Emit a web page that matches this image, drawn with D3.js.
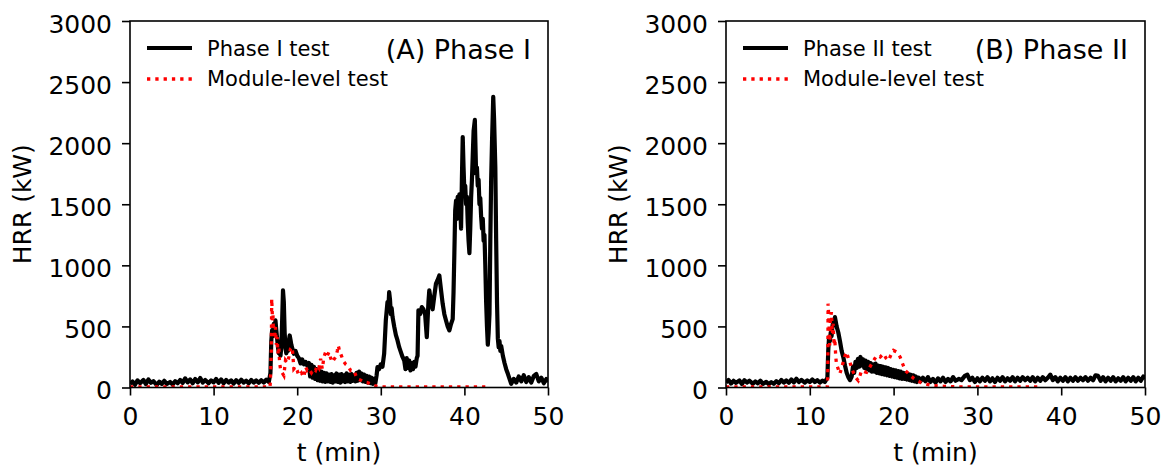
<!DOCTYPE html>
<html lang="en">
<head>
<meta charset="UTF-8">
<script src="https://d3js.org/d3.v7.min.js"></script>
<style>
  body { margin: 0; background: #fff; font-family: "DejaVu Sans", sans-serif; }
  .tick text { font-family: "DejaVu Sans", sans-serif; font-size: 25px; fill: #000; }
  .tick line { stroke: #000; stroke-width: 1.6px; }
  .axis-label { font-size: 25px; fill: #000; }
  .legend text { font-size: 21px; fill: #000; }
  .panel-title { font-size: 27px; fill: #000; }
</style>
</head>
<body>
<svg id="chart" width="1165" height="466"></svg>
<script>
// [t (min), HRR (kW)]
const phase1Test = [[0,30],[0.3,50],[0.6,22],[0.9,58],[1.2,35],[1.6,62],[1.9,28],[2.2,66],[2.5,38],[2.8,52],[3.2,20],[3.5,48],[3.8,30],[4.1,55],[4.4,28],[4.8,45],[5.1,25],[5.4,52],[5.7,35],[6,62],[6.3,38],[6.6,75],[6.9,42],[7.2,66],[7.5,35],[7.8,70],[8.1,42],[8.4,78],[8.7,40],[9,62],[9.4,35],[9.7,58],[10,42],[10.3,70],[10.6,38],[10.9,66],[11.2,35],[11.5,62],[11.8,40],[12.1,58],[12.4,32],[12.7,60],[13,38],[13.3,64],[13.6,40],[13.9,56],[14.2,35],[14.5,62],[14.8,40],[15.1,58],[15.4,38],[15.7,60],[16,40],[16.3,64],[16.6,45],
  [16.8,120],[16.9,380],[17,470],[17.1,420],[17.2,520],[17.3,480],[17.4,549],[17.5,470],[17.6,400],[17.7,330],[17.8,280],[17.9,300],[18,260],[18.1,330],[18.2,550],[18.3,795],[18.4,700],[18.5,450],[18.6,320],[18.7,280],[18.8,330],[18.9,300],[19,380],[19.1,426],[19.2,390],[19.3,350],[19.5,300],[19.6,276],[19.8,300],[20,260],[20.2,240],[20.4,197],[20.6,230],[20.8,190],[21,210],[21.2,180],
  [21.4,200],[21.55,90],[21.7,185],[21.85,80],[22,170],[22.15,70],[22.3,150],[22.45,60],[22.6,140],[22.75,55],[22.9,130],[23.05,50],[23.2,120],[23.35,45],[23.5,115],[23.65,50],[23.8,105],[23.95,45],[24.1,110],[24.25,40],[24.4,100],[24.55,50],[24.7,115],[24.85,45],[25,105],[25.15,40],[25.3,110],[25.45,50],[25.6,100],[25.75,45],[25.9,115],[26.05,50],[26.2,105],[26.35,45],[26.5,110],[26.65,55],[26.8,100],[26.95,50],[27.1,120],[27.25,55],[27.4,130],[27.55,60],[27.7,115],[27.85,50],[28,105],[28.15,45],[28.3,95],[28.45,40],[28.6,90],[28.75,35],[28.9,80],[29.05,30],[29.2,70],[29.35,35],[29.5,100],
  [29.6,167],[29.8,150],[30,190],[30.2,170],[30.4,276],[30.6,550],[30.8,700],[30.9,640],[31,780],[31.1,720],[31.2,600],[31.3,650],[31.4,580],[31.6,500],[31.8,430],[32,385],[32.2,330],[32.4,290],[32.6,250],[32.8,221],[32.95,150],[33.1,240],[33.25,160],[33.4,220],[33.55,140],[33.7,200],[33.85,150],[34,210],[34.15,170],[34.3,240],[34.4,260],[34.5,631],[34.7,600],[34.9,658],[35.1,640],[35.3,600],[35.5,412],[35.7,700],[35.8,795],[36,700],[36.2,640],[36.4,750],[36.6,850],[36.8,880],[37,918],[37.2,800],[37.4,686],[37.6,600],[37.8,549],[38,500],[38.2,467],[38.4,520],
  [38.6,560],[38.7,780],[38.8,1100],[38.9,1450],[39,1530],[39.1,1380],[39.2,1560],[39.3,1450],[39.4,1580],[39.5,1500],[39.6,1300],[39.7,1700],[39.8,2050],[39.9,1800],[40,1600],[40.1,1650],[40.2,1500],[40.3,1560],[40.4,1350],[40.5,1200],[40.6,1100],[40.7,1300],[40.8,1550],[40.9,1700],[41,1900],[41.1,2100],[41.25,2190],[41.4,1750],[41.5,1800],[41.6,1650],[41.7,1700],[41.8,1500],[41.9,1550],[42,1400],[42.1,1300],[42.2,1380],[42.3,1200],[42.4,1250],[42.5,1000],[42.6,700],[42.7,500],[42.8,350],[42.9,450],[43,600],[43.1,1200],[43.2,1700],[43.3,2000],[43.45,2380],[43.55,2200],[43.7,1800],[43.8,1200],[43.9,700],[44,400],[44.1,330],[44.2,380],[44.3,300],[44.4,340],[44.6,260],[44.8,200],[45,150],[45.2,112],[45.4,70],[45.6,30],[45.9,70],[46.2,40],[46.5,90],[46.8,50],[47.1,100],[47.4,45],[47.7,85],[48,40],[48.3,95],[48.6,110],[48.9,50],[49.2,80],[49.5,35],[49.8,70],[50,45]];

const phase1Module = [[0,4],[16.75,4],[16.8,60],[16.9,300],[16.95,727],[17,640],[17.05,550],[17.1,600],[17.15,470],[17.2,500],[17.3,400],[17.4,494],[17.5,350],[17.6,413],[17.7,280],[17.8,330],[17.9,200],[18,153],[18.2,120],[18.4,98],[18.5,160],[18.6,221],[18.8,200],[19,249],[19.2,317],[19.4,330],[19.5,250],[19.6,153],[19.8,170],[20,139],[20.2,98],[20.5,120],[20.8,85],[21,167],[21.2,140],[21.4,153],[21.7,120],[22,153],[22.2,140],[22.4,180],[22.6,160],[22.8,235],[23,153],[23.2,250],[23.4,290],[23.6,260],[23.8,290],[24,240],[24.2,208],[24.4,230],[24.6,249],[24.8,300],[24.9,344],[25,320],[25.2,276],[25.4,240],[25.6,208],[25.8,190],[26,180],[26.2,160],[26.4,139],[26.8,139],[27,100],[27.2,71],[27.6,60],[28,44],[28.4,40],[28.8,30],[29.2,16],[29.6,10],[30,6],[31,5],[42.5,5]];

const phase2Test = [[0,40],[0.3,62],[0.6,32],[0.9,55],[1.2,38],[1.6,58],[1.9,28],[2.2,60],[2.5,40],[2.8,56],[3.2,30],[3.5,50],[3.8,34],[4.1,56],[4.4,30],[4.8,46],[5.1,28],[5.4,44],[5.7,30],[6,52],[6.3,35],[6.6,62],[6.9,40],[7.2,58],[7.5,38],[7.8,66],[8.1,42],[8.4,72],[8.7,45],[9,62],[9.4,40],[9.7,58],[10,44],[10.3,66],[10.6,45],[10.9,60],[11.2,40],[11.5,56],[11.8,45],
  [12.1,80],[12.2,300],[12.3,412],[12.4,380],[12.5,450],[12.6,420],[12.7,500],[12.8,540],[12.9,520],[13,576],[13.1,540],[13.2,500],[13.4,450],[13.6,380],[13.8,300],[14,248],[14.2,180],[14.4,120],[14.6,84],[14.8,60],
  [15,90],[15.15,170],[15.3,120],[15.45,210],[15.6,160],[15.75,235],[15.9,170],[16.05,250],[16.2,180],[16.35,230],[16.5,160],[16.65,220],[16.8,150],[16.95,210],[17.1,140],[17.25,200],[17.4,130],[17.55,190],[17.7,130],[17.85,195],[18,120],[18.15,180],[18.3,115],[18.45,175],[18.6,110],[18.75,170],[18.9,105],[19.05,165],[19.2,100],[19.35,160],[19.5,95],[19.65,150],[19.8,90],[19.95,145],[20.1,85],[20.25,140],[20.4,80],[20.55,135],[20.7,75],[20.85,130],[21,70],[21.15,120],[21.3,70],[21.45,115],[21.6,65],[21.75,110],[21.9,60],[22.05,105],[22.2,55],[22.35,100],[22.5,50],[22.65,90],[22.8,45],[23,80],[23.2,50],
  [23.5,80],[23.8,50],[24.1,85],[24.4,45],[24.7,70],[25,40],[25.3,75],[25.6,50],[25.9,80],[26.2,45],[26.5,70],[26.8,50],[27.1,85],[27.4,55],[27.8,70],[28.1,60],[28.5,95],[28.8,105],[29.1,60],[29.4,80],[29.7,45],[30,75],[30.3,50],[30.6,80],[30.9,55],[31.2,85],[31.5,50],[31.8,75],[32.1,45],[32.4,80],[32.7,55],[33,85],[33.3,50],[33.6,75],[33.9,55],[34.2,85],[34.5,50],[34.8,80],[35.1,55],[35.4,85],[35.7,60],[36,80],[36.3,55],[36.6,85],[36.9,50],[37.2,80],[37.5,55],[37.8,85],[38.1,60],[38.4,80],[38.7,105],[39,60],[39.3,85],[39.6,50],[39.9,80],[40.2,55],[40.5,85],[40.8,50],[41.1,80],[41.4,55],[41.7,85],[42,55],[42.3,80],[42.6,60],[42.9,85],[43.2,55],[43.5,80],[43.8,60],[44.1,100],[44.4,95],[44.7,55],[45,85],[45.3,50],[45.6,80],[45.9,55],[46.2,85],[46.5,50],[46.8,75],[47.1,55],[47.4,85],[47.7,50],[48,80],[48.3,55],[48.6,85],[48.9,50],[49.2,80],[49.5,55],[49.8,90],[50,70]];

const phase2Module = [[0,4],[12.1,4],[12.15,150],[12.18,686],[12.25,600],[12.3,508],[12.38,344],[12.45,560],[12.58,617],[12.7,440],[12.78,522],[12.9,344],[12.98,400],[13.1,250],[13.18,194],[13.4,150],[13.58,112],[13.8,160],[13.98,207],[14.2,260],[14.38,290],[14.6,240],[14.78,207],[15,160],[15.18,125],[15.5,80],[15.78,57],[16,100],[16.18,139],[16.5,130],[16.78,125],[17.1,160],[17.39,194],[17.7,230],[17.99,262],[18.4,250],[18.79,276],[19.1,240],[19.39,221],[19.7,270],[19.99,303],[20.39,290],[20.79,248],[21.1,190],[21.39,139],[21.7,120],[21.99,98],[22.4,75],[22.8,57],[23.3,40],[23.8,30],[24.3,22],[24.8,16],[25.4,12],[26,10],[27,6],[37.6,5]];

const xTicks = [0, 10, 20, 30, 40, 50];
const yTicks = [0, 500, 1000, 1500, 2000, 2500, 3000];

const panels = [
  { left: 130, right: 548, title: "(A) Phase I", testName: "Phase I test", test: phase1Test, module: phase1Module },
  { left: 726, right: 1145, title: "(B) Phase II", testName: "Phase II test", test: phase2Test, module: phase2Module }
];
const plotTop = 21, plotBottom = 387.5;

const svg = d3.select("#chart");

panels.forEach((p, i) => {
  const x = d3.scaleLinear().domain([0, 50]).range([p.left, p.right]);
  const y = d3.scaleLinear().domain([0, 3000]).range([plotBottom, plotTop]);
  const g = svg.append("g");

  g.append("clipPath").attr("id", "clip" + i)
    .append("rect").attr("x", p.left).attr("y", plotTop)
    .attr("width", p.right - p.left).attr("height", plotBottom - plotTop);

  const line = d3.line().x(d => x(d[0])).y(d => y(d[1]));

  g.append("path").datum(p.test)
    .attr("clip-path", `url(#clip${i})`)
    .attr("fill", "none").attr("stroke", "#000")
    .attr("stroke-width", 4.2).attr("stroke-linejoin", "round")
    .attr("d", line);

  g.append("path").datum(p.module)
    .attr("clip-path", `url(#clip${i})`)
    .attr("fill", "none").attr("stroke", "#ff0000")
    .attr("stroke-width", 3.3).attr("stroke-dasharray", "3.3,5")
    .attr("d", line);

  // axes
  const xAxis = g.append("g").attr("transform", `translate(0,${plotBottom})`)
    .call(d3.axisBottom(x).tickValues(xTicks).tickSize(8).tickPadding(12));
  xAxis.select(".domain").remove();

  const yAxis = g.append("g").attr("transform", `translate(${p.left},0)`)
    .call(d3.axisLeft(y).tickValues(yTicks).tickFormat(d3.format("d")).tickSize(8).tickPadding(10));
  yAxis.select(".domain").remove();
  yAxis.selectAll("text").attr("dy", "0.45em");

  g.append("rect")
    .attr("x", p.left).attr("y", plotTop)
    .attr("width", p.right - p.left).attr("height", plotBottom - plotTop)
    .attr("fill", "none").attr("stroke", "#000").attr("stroke-width", 1.6);

  g.append("text").attr("class", "axis-label")
    .attr("x", (p.left + p.right) / 2).attr("y", 461)
    .attr("text-anchor", "middle").text("t (min)");

  g.append("text").attr("class", "axis-label")
    .attr("transform", `translate(${p.left - 99},${(plotTop + plotBottom) / 2}) rotate(-90)`)
    .attr("text-anchor", "middle").text("HRR (kW)");

  g.append("text").attr("class", "panel-title")
    .attr("x", p.right - 17).attr("y", 59)
    .attr("text-anchor", "end").text(p.title);

  // legend
  const lg = g.append("g").attr("class", "legend");
  lg.append("line")
    .attr("x1", p.left + 17).attr("x2", p.left + 62)
    .attr("y1", 48).attr("y2", 48)
    .attr("stroke", "#000").attr("stroke-width", 3.8);
  lg.append("text").attr("x", p.left + 77).attr("y", 56).text(p.testName);
  lg.append("line")
    .attr("x1", p.left + 17).attr("x2", p.left + 62)
    .attr("y1", 79).attr("y2", 79)
    .attr("stroke", "#ff0000").attr("stroke-width", 3.3).attr("stroke-dasharray", "3.3,5");
  lg.append("text").attr("x", p.left + 77).attr("y", 86).text("Module-level test");
});
</script>
</body>
</html>
